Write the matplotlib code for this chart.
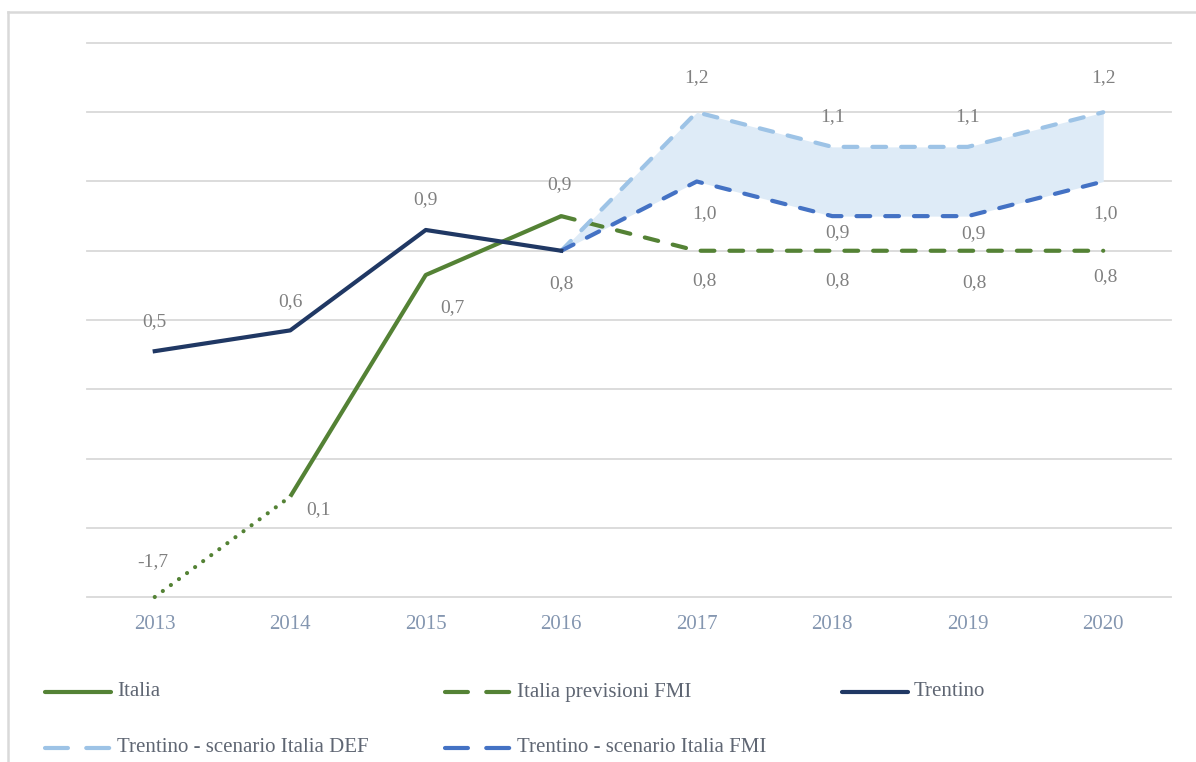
import numpy as np
import matplotlib
matplotlib.use("Agg")
import matplotlib.pyplot as plt
from matplotlib.lines import Line2D

W, H = 1196, 762

# data (2013-2016 history, 2016-2020 forecasts)
years = [2013, 2014, 2015, 2016, 2017, 2018, 2019, 2020]
hist_years = years[:4]
fcst_years = years[3:]
italia = [-1.7, 0.09, 0.73, 0.90]
trentino = [0.51, 0.57, 0.86, 0.80]
italia_fmi = [0.90, 0.80, 0.80, 0.80, 0.80]
trentino_def = [0.80, 1.20, 1.10, 1.10, 1.20]
trentino_fmi = [0.80, 1.00, 0.90, 0.90, 1.00]

Y_MIN, Y_MAX = -0.2, 1.4

GREEN = "#548235"
NAVY = "#203864"
LIGHT = "#9dc3e6"
BLUE = "#4472c4"
BAND = "#deebf7"
GRID = "#d9d9d9"
LABEL = "#808080"
TICK = "#8496b0"
LEGEND_TXT = "#5f6673"
FONT = "Liberation Serif"

LW = 3.0
DASH = (0, (3.3, 3.6))
DOT = (0, (0.01, 2.4))

plt.rcParams["font.family"] = [FONT, "DejaVu Serif"]


def px(x, y):
    return x / W, 1 - y / H


def fmt(v):
    return f"{v:.1f}".replace(".", ",")


fig = plt.figure(figsize=(W / 100, H / 100), dpi=100)
ax = fig.add_axes([87 / W, 1 - 597 / H, 1084 / W, 554 / H])
ax.set_xlim(2012.5, 2020.5)
ax.set_ylim(Y_MIN, Y_MAX)
for s in ax.spines.values():
    s.set_visible(False)
ax.set_yticks([])
for g in np.arange(Y_MIN, Y_MAX + 0.01, 0.2):
    ax.axhline(g, color=GRID, lw=1.3, zorder=0, clip_on=False)

ax.set_xticks(years)
ax.set_xticklabels([str(y) for y in years])
ax.tick_params(axis="x", length=0, pad=13, labelsize=15, labelcolor=TICK)

# band between the two Trentino scenarios
ax.fill_between(fcst_years, trentino_fmi, trentino_def, color=BAND, lw=0, zorder=1)

# Italia: 2013 sits below the axis floor, drawn at the floor
italia_plot = np.maximum(italia, Y_MIN)
ax.plot(hist_years[:2], italia_plot[:2], color=GREEN, lw=LW, ls=DOT,
        dash_capstyle="round", clip_on=False, zorder=3)
ax.plot(hist_years[1:], italia_plot[1:], color=GREEN, lw=LW,
        solid_capstyle="butt", solid_joinstyle="round", zorder=3)
ax.plot(fcst_years, italia_fmi, color=GREEN, lw=LW, ls=DASH,
        dash_capstyle="round", zorder=3)
ax.plot(hist_years, trentino, color=NAVY, lw=LW,
        solid_joinstyle="round", zorder=4)
ax.plot(fcst_years, trentino_def, color=LIGHT, lw=LW, ls=DASH,
        dash_capstyle="round", zorder=3)
ax.plot(fcst_years, trentino_fmi, color=BLUE, lw=LW, ls=DASH,
        dash_capstyle="round", zorder=3)

# data labels (offsets in pixels: dx right, dy up)
def labels(xs, vals, offsets):
    for x, v, (dx, dy) in zip(xs, vals, offsets):
        ax.annotate(fmt(v), (x, max(v, Y_MIN)), xytext=(dx * 0.72, dy * 0.72),
                    textcoords="offset points", ha="center", va="center",
                    fontsize=14, color=LABEL, annotation_clip=False)


labels(hist_years, italia, [(-2, 35), (28, -13), (27, -33), (-2, 32)])
labels(hist_years, trentino, [(0, 30), (0, 29), (0, 30), (0, -33)])
labels(fcst_years[1:], italia_fmi[1:], [(8, -30), (5, -30), (7, -32), (2, -26)])
labels(fcst_years[1:], trentino_def[1:], [(0, 35), (0, 30), (0, 30), (0, 35)])
labels(fcst_years[1:], trentino_fmi[1:], [(8, -32), (5, -16), (6, -17), (2, -32)])

# outer frame (top and left edges visible in the crop)
fig.add_artist(Line2D([8 / W, 1], [1 - 12 / H] * 2, color=GRID, lw=1.8))
fig.add_artist(Line2D([8 / W] * 2, [0, 1 - 12 / H], color=GRID, lw=1.8))

# legend
entries = [
    ("Italia", GREEN, "-", 45, 692),
    ("Italia previsioni FMI", GREEN, (0, (5.5, 4.4)), 445, 692),
    ("Trentino", NAVY, "-", 842, 692),
    ("Trentino - scenario Italia DEF", LIGHT, (0, (5.5, 4.4)), 45, 748),
    ("Trentino - scenario Italia FMI", BLUE, (0, (5.5, 4.4)), 445, 748),
]
for name, col, ls, x0, y0 in entries:
    xa, ya = px(x0, y0)
    xb, _ = px(x0 + 66, y0)
    fig.add_artist(Line2D([xa, xb], [ya, ya], color=col, lw=LW, ls=ls,
                          solid_capstyle="round", dash_capstyle="round"))
    tx, ty = px(x0 + 72, y0)
    fig.text(tx, ty, name, ha="left", va="center", fontsize=15, color=LEGEND_TXT)

fig.savefig("out.png", dpi=100)
